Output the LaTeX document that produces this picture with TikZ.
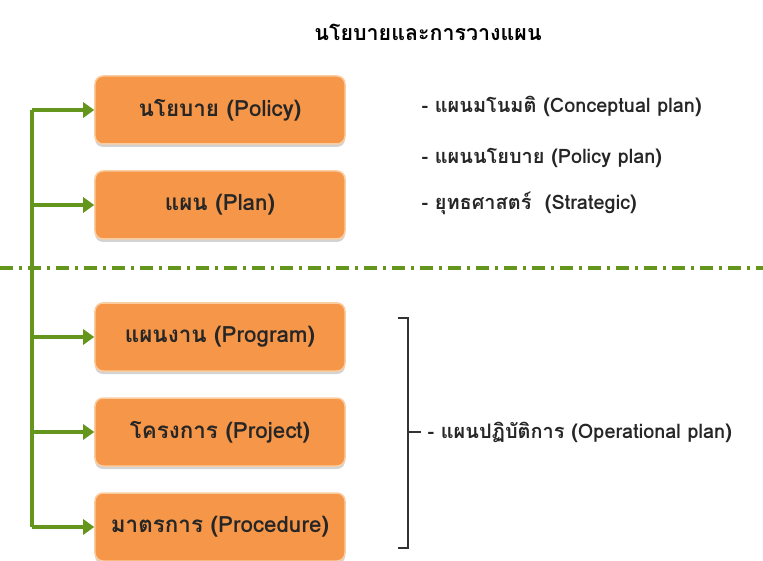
\documentclass[tikz,border=0pt]{standalone}
\usepackage{fontspec}
\newfontfamily\thaifont[Script=Thai]{Loma}
\usetikzlibrary{arrows.meta,shadows}
\definecolor{boxorange}{RGB}{246,150,72}
\definecolor{boxedge}{RGB}{250,205,160}
\definecolor{linegreen}{RGB}{100,150,30}
\begin{document}
\begin{tikzpicture}[x=1bp,y=-1bp,>={Triangle[length=11bp,width=15bp]},
    planbox/.style={draw=boxedge, line width=1.5bp, fill=boxorange, rounded corners=8bp,
      minimum width=250bp, minimum height=68bp,
      font=\thaifont\bfseries\fontsize{22.5}{26}\selectfont, text=black!85,
      drop shadow={shadow xshift=0bp, shadow yshift=-3bp, opacity=0.35}},
    note/.style={anchor=west, font=\thaifont\bfseries\fontsize{20}{23}\selectfont, text=black!85}]
  \useasboundingbox (0,0) rectangle (763,561);
  \node[font=\thaifont\bfseries\fontsize{21.5}{25}\selectfont] (title) at (428,32) {นโยบายและการวางแผน};
  % the five levels
  \foreach \y/\name/\txt in {110/policy/นโยบาย (Policy), 205/plan/แผน (Plan),
      337/program/แผนงาน (Program), 432/project/โครงการ (Project), 527/procedure/มาตรการ (Procedure)} {
      \node[planbox] (\name) at (220,\y) {\txt};
    }
  \coordinate (trunktop) at (32,110);
  \coordinate (trunkbot) at (32,527);
  \draw[linegreen, line width=3.5bp] (trunktop) -- (trunkbot);
  \foreach \name in {policy,plan,program,project,procedure} {
      \draw[linegreen, line width=3.5bp, ->] (trunktop |- \name.west) -- (\name.west);
    }
  % divider
  \coordinate (divl) at (0,268);
  \coordinate (divr) at (763,268);
  \draw[linegreen, line width=4bp, dash pattern=on 13bp off 6bp on 3bp off 6bp] (divl) -- (divr);
  % notes
  \node[note] (concept) at (418,106) {- แผนมโนมติ (Conceptual plan)};
  \node[note] (policyplan) at (418,158) {- แผนนโยบาย (Policy plan)};
  \node[note] (strategic) at (418,203) {- ยุทธศาสตร์~ (Strategic)};
  \coordinate (brtop) at (408,318);
  \coordinate (brbot) at (408,548);
  \draw[line width=1.2bp, black!80] ([xshift=-10bp]brtop) -- (brtop) -- (brbot) -- ([xshift=-10bp]brbot);
  \node[note] (operational) at (424,432) {- แผนปฏิบัติการ (Operational plan)};
  \draw[line width=1.2bp, black!80] (brtop |- operational.west) -- ([xshift=-3bp]operational.west);
\end{tikzpicture}
\end{document}
